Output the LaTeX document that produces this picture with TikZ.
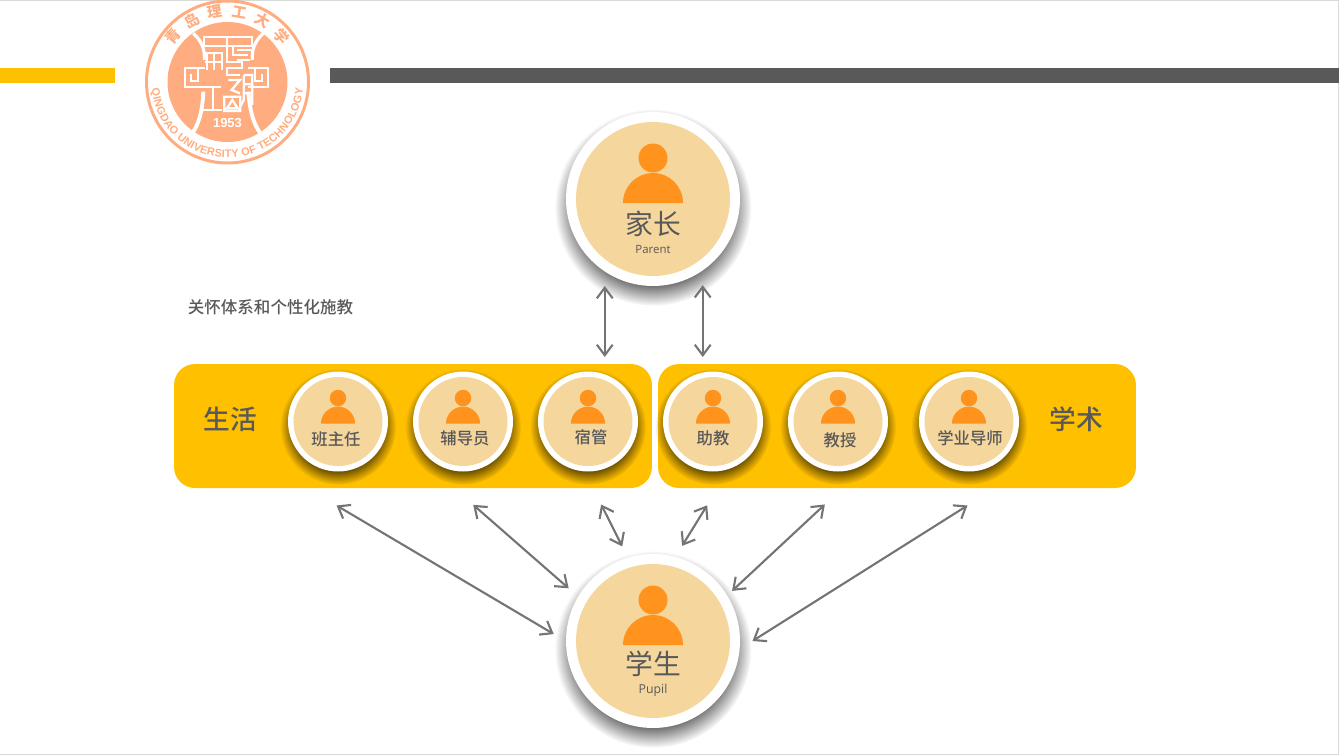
\documentclass[tikz,border=0pt]{standalone}
\usepackage{fontspec}
\setmainfont{Noto Sans CJK SC}
\newfontfamily\cjkmedium{Noto Sans CJK SC Medium}
\newfontfamily\latinfont{Open Sans}
\newfontfamily\logofont{Liberation Sans}
\usetikzlibrary{shadows,fadings,arrows.meta,decorations.text}

\definecolor{panelyellow}{HTML}{FFC000}
\definecolor{discsand}{HTML}{F5D79E}
\definecolor{personorange}{HTML}{FF931E}
\definecolor{textgray}{HTML}{595959}
\definecolor{arrowgray}{HTML}{757373}
\definecolor{logopeach}{HTML}{FFAD80}

% soft edge for the shadows
\pgfdeclareradialshading{softedgeshade}{\pgfpointorigin}{color(0bp)=(pgftransparent!0); color(17bp)=(pgftransparent!0); color(25bp)=(pgftransparent!100); color(50bp)=(pgftransparent!100)}
\pgfdeclarefading{softedge}{\pgfuseshading{softedgeshade}}

\begin{document}
\begin{tikzpicture}[
    x=0.02cm, y=-0.02cm,
    panel/.style={fill=panelyellow, rounded corners=0.42cm, minimum width=9.56cm, minimum height=2.48cm, inner sep=0pt, outer sep=0.14cm},
    bigring/.style={circle, fill=white, minimum size=3.48cm, inner sep=0pt, outer sep=0.25cm,
        circular drop shadow={shadow xshift=0pt, shadow yshift=-0.15cm, shadow scale=1.13, opacity=0.85, fill=black, path fading=softedge}},
    smallring/.style={circle, fill=white, minimum size=2cm, inner sep=0pt, outer sep=0.68cm,
        circular drop shadow={shadow xshift=0pt, shadow yshift=-0.09cm, shadow scale=1.16, opacity=0.8, fill=black, path fading=softedge}},
    bigdisc/.style={circle, fill=discsand, minimum size=3.08cm, inner sep=0pt},
    smalldisc/.style={circle, fill=discsand, minimum size=1.78cm, inner sep=0pt},
    biglabel/.style={text=textgray, font=\fontsize{15.8}{18}\selectfont, inner sep=0pt},
    sidelabel/.style={text=textgray, font=\cjkmedium\fontsize{15.2}{18}\selectfont, inner sep=0pt},
    smalllabel/.style={text=textgray, font=\cjkmedium\fontsize{9.3}{11}\selectfont, inner sep=0pt},
    latinlabel/.style={text=textgray, font=\latinfont\fontsize{6.5}{8}\selectfont, inner sep=0pt},
    biarrow/.style={{Straight Barb[length=6pt,width=9pt]}-{Straight Barb[length=6pt,width=9pt]}, draw=arrowgray, line width=1.2pt},
    glyph/.style={draw=white, line width=1.3pt},
    pics/person/.style={code={
        \fill[personorange] (0,-45) circle [radius=14.5];
        \fill[personorange] (-30,0) arc [start angle=180, end angle=360, radius=30] -- cycle;
    }}
]
\useasboundingbox (0,0) rectangle (1339,755);

% Frame and bars
\draw[gray!30, line width=0.5pt] (0,0.5) -- (1338.5,0.5) -- (1338.5,754.5) -- (0,754.5);
\fill[panelyellow] (0,68) rectangle (115,83);
\fill[textgray] (330,68) rectangle (1339,83);

% Logo
\draw[logopeach, line width=1.7pt] (227.5,82) circle [radius=81];
\fill[logopeach] (227.5,82) circle [radius=60];
\foreach \logochar [count=\i from 0] in {青,岛,理,工,大,学} {
    \node[logopeach, font=\fontsize{8.4}{9}\selectfont\bfseries, inner sep=0pt, rotate={50-20*\i}]
        (seal\i) at ({227.5+71*cos(140-20*\i)},{82-71*sin(140-20*\i)}) {\logochar};
}
\path[postaction={decorate, decoration={text along path, text align=fit to path,
        text color=logopeach, text={|\logofont\bfseries\fontsize{6.2}{7}\selectfont|QINGDAO UNIVERSITY OF TECHNOLOGY}}}]
    (152,88.6) arc [start angle=-185, end angle=-355, radius=75.8];
\node[text=white, font=\logofont\bfseries\fontsize{7.4}{8}\selectfont, inner sep=0pt] (founded) at (227.5,123.3) {1953};
\begin{scope}[shift={(165,25)}, x=0.02cm/3, y=-0.02cm/3]
    % flanking curves
    \draw[glyph, line width=1.8pt] (85,25) .. controls (112,50) and (120,75) .. (118,105);
    \draw[glyph, line width=1.8pt] (295,25) .. controls (268,50) and (260,75) .. (262,105);
    \draw[glyph, line width=2.2pt] (115,200) .. controls (112,265) and (100,305) .. (72,338);
    \draw[glyph, line width=2.2pt] (250,200) .. controls (255,265) and (268,305) .. (296,338);
    % ears
    \draw[glyph] (120,130) -- (60,130) -- (60,187) -- (120,187);
    \draw[glyph] (78,148) -- (78,168) -- (100,168) -- (100,130);
    \draw[glyph] (250,130) -- (310,130) -- (310,187) -- (250,187);
    \draw[glyph] (292,148) -- (292,168) -- (270,168) -- (270,130);
    % glyph
    \draw[glyph] (118,62) -- (118,35) -- (262,35) -- (262,62) -- cycle;
    \draw[glyph] (120,85) -- (175,85) (120,110) -- (175,110) (125,85) -- (125,135) (147,85) -- (147,135) (170,85) -- (170,135);
    \draw[glyph] (185,35) -- (185,110) -- (230,110) -- (230,130) -- (185,130) -- (185,150) -- (225,150);
    \draw[glyph] (205,65) -- (205,90) -- (250,90) (215,75) -- (262,75) (215,105) -- (255,105);
    \draw[glyph] (120,185) -- (168,185) (143,185) -- (143,255) (115,255) -- (172,255);
    \draw[glyph] (190,165) -- (225,165) -- (200,195) -- (225,205);
    \draw[glyph] (178,215) rectangle (226,258) (202,225) -- (186,250) -- (218,250) -- cycle;
    \draw[glyph] (236,150) -- (262,150) -- (262,240) (236,150) -- (236,225) -- (226,245) (236,178) -- (262,178) (236,205) -- (262,205);
\end{scope}

% Title
\node[text=textgray, font=\cjkmedium\fontsize{9.4}{11}\selectfont, inner sep=0pt] (caption) at (270.5,307) {关怀体系和个性化施教};

% Panels
\node[panel] (lifepanel) at (413,426) {};
\node[panel] (studypanel) at (897,426) {};
\node[sidelabel] (lifelabel) at (230.5,419.5) {生活};
\node[sidelabel] (studylabel) at (1076,419.5) {学术};

% Parent and pupil
\node[bigring] (parent) at (653,199) {};
\node[bigdisc] (parentdisc) at (653,199) {};
\pic (parenticon) at (653,203) {person};
\node[biglabel] (parentname) at (653,224) {家长};
\node[latinlabel] (parentlatin) at (653,249) {Parent};

\node[bigring] (pupil) at (653,641) {};
\node[bigdisc] (pupildisc) at (653,641) {};
\pic (pupilicon) at (653,645) {person};
\node[biglabel] (pupilname) at (653,664) {学生};
\node[latinlabel, font=\latinfont\fontsize{7}{8}\selectfont] (pupillatin) at (653,690) {Pupil};

% Staff
\node[smallring] (banzhuren) at (338,421.5) {};
\node[smallring] (fudaoyuan) at (463,421.5) {};
\node[smallring] (suguan) at (588,421.5) {};
\node[smallring] (zhujiao) at (713,421.5) {};
\node[smallring] (jiaoshou) at (838,421.5) {};
\node[smallring] (daoshi) at (969,421.5) {};

\node[smalldisc] (banzhurendisc) at (338,421.5) {};
\node[smalldisc] (fudaoyuandisc) at (463,421.5) {};
\node[smalldisc] (suguandisc) at (588,421.5) {};
\node[smalldisc] (zhujiaodisc) at (713,421.5) {};
\node[smalldisc] (jiaoshoudisc) at (838,421.5) {};
\node[smalldisc] (daoshidisc) at (969,421.5) {};

\pic[scale=0.57] (banzhurenicon) at (338,423.7) {person};
\pic[scale=0.57] (fudaoyuanicon) at (463,423.7) {person};
\pic[scale=0.57] (suguanicon) at (588,423.7) {person};
\pic[scale=0.57] (zhujiaoicon) at (713,423.7) {person};
\pic[scale=0.57] (jiaoshouicon) at (838,423.7) {person};
\pic[scale=0.57] (daoshiicon) at (969,423.7) {person};

\node[smalllabel] (banzhurenname) at (336,439) {班主任};
\node[smalllabel] (fudaoyuanname) at (465,438) {辅导员};
\node[smalllabel] (suguanname) at (591,437) {宿管};
\node[smalllabel] (zhujiaoname) at (713,438) {助教};
\node[smalllabel] (jiaoshouname) at (840,440) {教授};
\node[smalllabel] (daoshiname) at (970,438) {学业导师};

% Links
\draw[biarrow] (parent.-119) -- (parent.-119 |- lifepanel.north);
\draw[biarrow] (parent.-60) -- (parent.-60 |- studypanel.north);
\draw[biarrow] (banzhuren.-91) -- (pupil.176);
\draw[biarrow] (fudaoyuan.-83) -- (pupil.148);
\draw[biarrow] (suguan.-81) -- (pupil.108);
\draw[biarrow] (zhujiao.-94) -- (pupil.73);
\draw[biarrow, shorten >=-3.4pt] (jiaoshou.-99) -- (pupil.33);
\draw[biarrow] (daoshi.-91) -- (pupil.0);

\end{tikzpicture}
\end{document}
